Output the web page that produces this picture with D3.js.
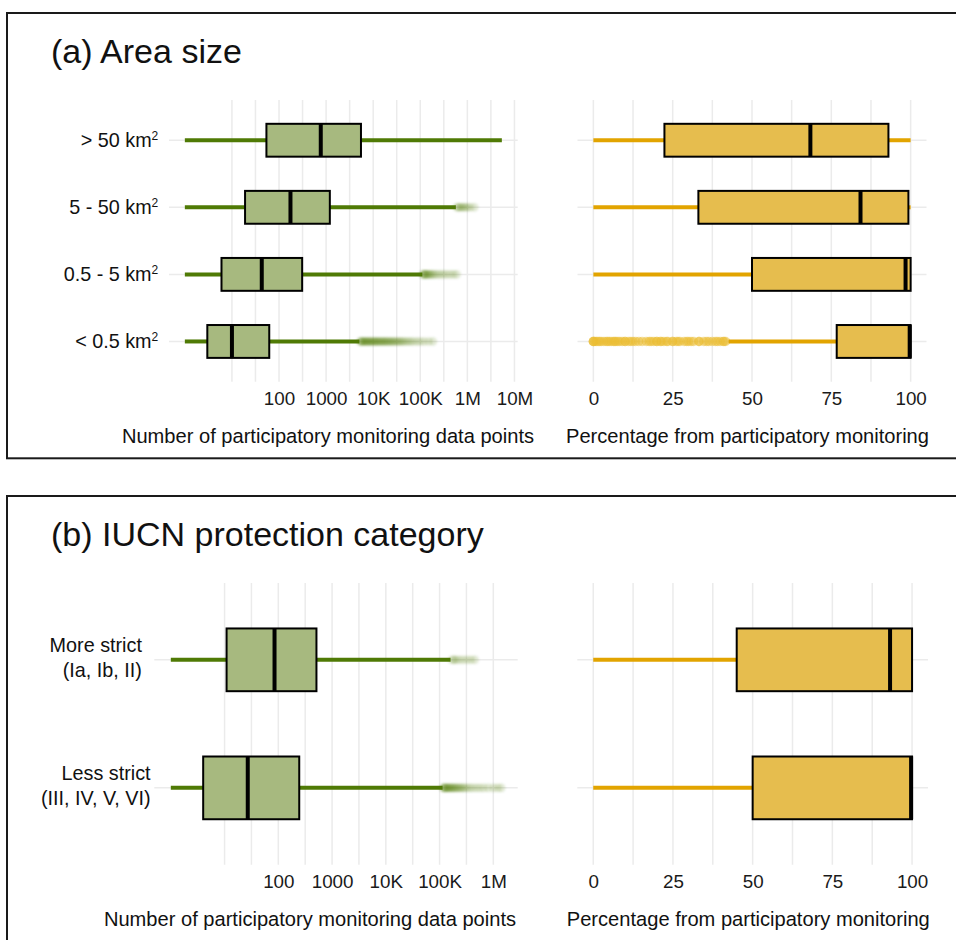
<!DOCTYPE html>
<html>
<head>
<meta charset="utf-8">
<script src="https://cdn.jsdelivr.net/npm/d3@7"></script>
<style>
  body { margin: 0; background: #fff; }
  svg { display: block; }
</style>
</head>
<body>
<script>
// ---------- data ----------
// five-number summaries: [lower whisker, Q1, median, Q3, upper whisker]
const areaCategories = [["> 50 km", "2"], ["5 - 50 km", "2"], ["0.5 - 5 km", "2"], ["< 0.5 km", "2"]];
const areaCountStats = [
  [1, 54, 770, 5500, 5400000],
  [1, 19, 175, 1200, 570000],
  [1, 6, 43, 310, 111000],
  [1, 3, 10, 62, 5100]
];
const areaCountOutliers = [
  [],
  [600000, 640000, 690000, 750000, 820000, 900000, 1000000, 1150000, 1400000],
  [114000, 118000, 122000, 127000, 133000, 140000, 148000, 157000, 168000, 182000,
   200000, 225000, 260000, 300000, 350000, 420000, 500000, 590000],
  [5300, 5500, 5700, 5900, 6200, 6500, 6800, 7100, 7400, 7800, 8200, 8600, 9000, 9500,
   10000, 10500, 11000, 11600, 12200, 12900, 13600, 14400, 15200, 16100, 17000, 18000,
   19000, 20200, 21500, 23000, 24500, 26000, 28000, 30000, 32500, 35000, 38000, 41000,
   45000, 50000, 56000, 63000, 72000, 85000, 100000, 120000, 150000, 185000]
];
const areaPctStats = [
  [0, 22.4, 68.4, 93.0, 100],
  [0, 33.1, 84.2, 99.3, 100],
  [0, 50.0, 98.4, 100, 100],
  [42.6, 76.7, 99.7, 100, 100]
];
const areaPctOutliers = [
  [], [], [],
  [0, 0, 0, 0.5, 1, 1.5, 2, 2.5, 3.3, 4, 4.5, 5, 5.6, 6.3, 6.7, 7.1, 7.7, 8.3, 9.1, 10, 10,
   11.1, 11.8, 12.5, 13.3, 14.3, 15.4, 16.7, 17.6, 18.2, 19, 20, 20, 21.1, 21.4, 22.2, 23.1,
   23.5, 25, 25, 26.1, 26.7, 27.3, 28.6, 29.4, 30, 30.8, 31.6, 33.3, 33.3, 34.8, 35.7, 36.4,
   37.5, 38.5, 39.1, 40, 40.9, 41.2, 41.7]
];

const iucnCategories = [["More strict", "(Ia, Ib, II)"], ["Less strict", "(III, IV, V, VI)"]];
const iucnCountStats = [
  [1, 10.9, 85, 512, 160000],
  [1, 4, 27, 245, 114000]
];
const iucnCountOutliers = [
  [170000, 185000, 200000, 230000, 270000, 320000, 380000, 450000],
  [116000, 120000, 124000, 128000, 133000, 138000, 143000, 149000, 155000, 162000,
   170000, 178000, 187000, 197000, 208000, 220000, 235000, 250000, 270000, 290000,
   320000, 360000, 410000, 480000, 560000, 660000, 800000, 1000000, 1200000, 1400000]
];
const iucnPctStats = [
  [0, 45.0, 93.1, 100, 100],
  [0, 50.0, 99.7, 100, 100]
];
const iucnPctOutliers = [[], []];

// axis breaks and labels
const countGridA = [10, 31.6, 100, 316, 1000, 3160, 1e4, 3.16e4, 1e5, 3.16e5, 1e6, 3.16e6, 1e7];
const countTicksA = [100, 1000, 1e4, 1e5, 1e6, 1e7];
const countTickLabelsA = ["100", "1000", "10K", "100K", "1M", "10M"];
const countGridB = [10, 31.6, 100, 316, 1000, 3160, 1e4, 3.16e4, 1e5, 3.16e5, 1e6];
const countTicksB = [100, 1000, 1e4, 1e5, 1e6];
const countTickLabelsB = ["100", "1000", "10K", "100K", "1M"];
const pctGrid = [0, 12.5, 25, 37.5, 50, 62.5, 75, 87.5, 100];
const pctTicks = [0, 25, 50, 75, 100];

const titleA = "(a) Area size";
const titleB = "(b) IUCN protection category";
const countAxisTitle = "Number of participatory monitoring data points";
const pctAxisTitle = "Percentage from participatory monitoring";

// ---------- styling ----------
const FONT = '"Liberation Sans", Arial, Helvetica, sans-serif';
const GREEN = "#4f7a05", GREEN_FILL = "#a7b97f";
const GOLD = "#e2a400", GOLD_FILL = "#e6bd4e", GOLD_POINT = "#ecbd33";
const GRID = "#ebebeb";

const svg = d3.select("body").append("svg")
  .attr("width", 956).attr("height", 940)
  .style("font-family", FONT);

const defs = svg.append("defs");
[["softG", 1.1], ["softY", 0.6]].forEach(([id, sd]) => {
  defs.append("filter")
    .attr("id", id).attr("x", "-50%").attr("y", "-50%")
    .attr("width", "200%").attr("height", "200%")
    .append("feGaussianBlur").attr("stdDeviation", sd);
});

function drawBoxes(g, x, y, cats, stats, outliers, color, fill, pt) {
  const h = y.step() * 0.49;
  cats.forEach((c, i) => {
    const [lo, q1, med, q3, hi] = stats[i];
    const cy = y(c);
    const row = g.append("g");
    // outlying points
    row.append("g").attr("filter", `url(#${pt.filter})`)
      .selectAll("circle").data(outliers[i]).join("circle")
      .attr("cx", d => x(d)).attr("cy", cy).attr("r", pt.r)
      .attr("fill", pt.color).attr("fill-opacity", pt.opacity);
    // whiskers
    row.selectAll("line.wh").data([[lo, q1], [q3, hi]]).join("line")
      .attr("class", "wh")
      .attr("x1", d => x(d[0])).attr("x2", d => x(d[1]))
      .attr("y1", cy).attr("y2", cy)
      .attr("stroke", color).attr("stroke-width", 4);
    // box
    row.append("rect")
      .attr("x", x(q1)).attr("width", x(q3) - x(q1))
      .attr("y", cy - h / 2).attr("height", h)
      .attr("fill", fill).attr("stroke", "#000").attr("stroke-width", 2);
    // median
    row.append("line")
      .attr("x1", x(med)).attr("x2", x(med))
      .attr("y1", cy - h / 2).attr("y2", cy + h / 2)
      .attr("stroke", "#000").attr("stroke-width", 4);
  });
}

function drawGrid(g, x, y, cats, breaks, top, bottom) {
  const [r0, r1] = x.range();
  g.append("g").selectAll("line").data(breaks).join("line")
    .attr("x1", d => x(d)).attr("x2", d => x(d))
    .attr("y1", top).attr("y2", bottom)
    .attr("stroke", GRID).attr("stroke-width", 1.5);
  g.append("g").selectAll("line").data(cats).join("line")
    .attr("x1", r0).attr("x2", r1)
    .attr("y1", d => y(d)).attr("y2", d => y(d))
    .attr("stroke", GRID).attr("stroke-width", 1.5);
}

function drawTicks(g, x, ticks, labels, baseline) {
  const ax = d3.axisBottom(x).tickValues(ticks).tickSize(0).tickPadding(0)
    .tickFormat((d, i) => labels[i]);
  const a = g.append("g").attr("transform", `translate(0,${baseline})`).call(ax);
  a.select(".domain").remove();
  a.selectAll("text").attr("dy", 0).attr("y", 0)
    .attr("font-size", 18.8).attr("font-family", FONT).attr("fill", "#1a1a1a");
}

function drawPanel(cfg) {
  const top = cfg.top;
  const g = svg.append("g");

  g.append("rect")
    .attr("x", 7).attr("y", top).attr("width", 1000).attr("height", cfg.frameH)
    .attr("fill", "none").attr("stroke", "#1a1a1a").attr("stroke-width", 2);

  g.append("text").attr("x", 51).attr("y", top + 50)
    .attr("font-size", 34).attr("fill", "#111").text(cfg.title);

  const plotTop = top + 87, plotBot = top + 368.7;
  const idx = cfg.cats.map((c, i) => i);
  const y = d3.scalePoint().domain(idx).range([plotTop, plotBot]).padding(0.6);

  // left: counts on a log axis, limits padded by 5% of the log range
  const allCounts = cfg.countStats.flat().concat(cfg.countOutliers.flat());
  const [lo, hi] = d3.extent(allCounts).map(Math.log10);
  const pad = (hi - lo) * 0.05;
  const xc = d3.scaleLog().domain([10 ** (lo - pad), 10 ** (hi + pad)]).range(cfg.countRange);

  drawGrid(g, xc, y, idx, cfg.countGrid, plotTop, plotBot);
  drawBoxes(g, xc, y, idx, cfg.countStats, cfg.countOutliers, GREEN, GREEN_FILL,
    { color: GREEN, opacity: 0.16, r: 4.3, filter: "softG" });
  drawTicks(g, xc, cfg.countTicks, cfg.countTickLabels, top + 392);

  // right: percentage, padded by 5%
  const xp = d3.scaleLinear().domain([-5, 105]).range(cfg.pctRange);
  drawGrid(g, xp, y, idx, pctGrid, plotTop, plotBot);
  drawBoxes(g, xp, y, idx, cfg.pctStats, cfg.pctOutliers, GOLD, GOLD_FILL,
    { color: GOLD_POINT, opacity: 0.5, r: 4.7, filter: "softY" });
  drawTicks(g, xp, pctTicks, pctTicks.map(String), top + 392);

  // axis titles
  g.append("text").attr("x", cfg.countTitleX).attr("y", top + 430)
    .attr("text-anchor", "middle").attr("font-size", 20.1).attr("fill", "#111")
    .text(countAxisTitle);
  g.append("text").attr("x", cfg.pctTitleX).attr("y", top + 430)
    .attr("text-anchor", "middle").attr("font-size", 20.1).attr("fill", "#111")
    .text(pctAxisTitle);

  // category labels
  cfg.cats.forEach((c, i) => {
    const t = g.append("text").attr("font-size", 19.8).attr("fill", "#111")
      .attr("text-anchor", "end");
    if (cfg.superscript) {
      // single line, unit with a raised exponent
      t.append("tspan").attr("x", 0).attr("y", y(i) + 7).text(c[0]);
      t.append("tspan").attr("dy", -7).attr("font-size", 12).text(c[1]);
    } else {
      c.forEach((ln, k) => {
        t.append("tspan").attr("x", 0).attr("y", y(i) - 8 + k * 25).text(ln);
      });
    }
    let xr = cfg.labelRight;
    if (cfg.labelCenter !== undefined) {
      const w = t.node().getBBox().width;
      xr = cfg.labelCenter + w / 2;
    }
    t.attr("transform", `translate(${xr},0)`);
  });
}

drawPanel({
  top: 13, frameH: 445.3, title: titleA, cats: areaCategories, superscript: true,
  countStats: areaCountStats, countOutliers: areaCountOutliers,
  pctStats: areaPctStats, pctOutliers: areaPctOutliers,
  countGrid: countGridA, countTicks: countTicksA, countTickLabels: countTickLabelsA,
  countRange: [169, 517.7], pctRange: [577.5, 926.5],
  countTitleX: 328, pctTitleX: 747.5, labelRight: 158.3
});

drawPanel({
  top: 496, frameH: 600, title: titleB, cats: iucnCategories, superscript: false,
  countStats: iucnCountStats, countOutliers: iucnCountOutliers,
  pctStats: iucnPctStats, pctOutliers: iucnPctOutliers,
  countGrid: countGridB, countTicks: countTicksB, countTickLabels: countTickLabelsB,
  countRange: [154.3, 517.7], pctRange: [577.3, 928],
  countTitleX: 310, pctTitleX: 748.3, labelCenter: 95.5
});
</script>
</body>
</html>
